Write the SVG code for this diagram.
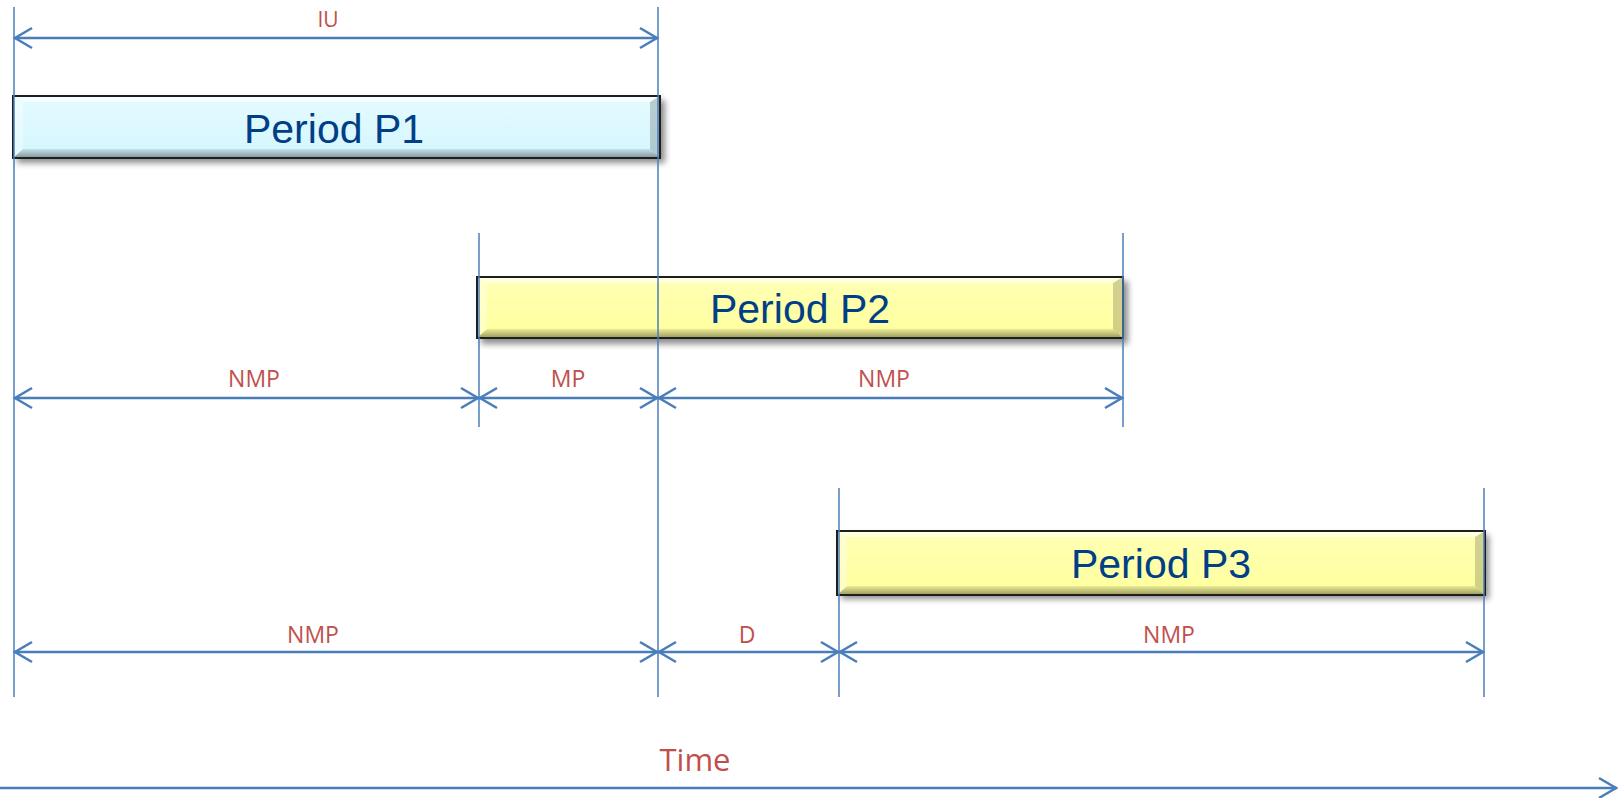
<svg xmlns="http://www.w3.org/2000/svg" width="1620" height="798" viewBox="0 0 1620 798">
<style>
.lbl{font-family:"Open Sans","Liberation Sans",sans-serif;font-size:23px;fill:#C0504D;text-anchor:middle}
.ptxt{font-family:"Liberation Sans",Arial,sans-serif;font-size:41px;fill:#003F87;text-anchor:middle}
.vl{stroke:#4A7EBB;stroke-width:1.5;fill:none}
.ar{stroke:#4A7EBB;stroke-width:2.5;fill:none;marker-start:url(#arr);marker-end:url(#arr)}
.edge{fill:none;stroke:#1e1e1e;stroke-width:2}
.hi{fill:#ffffff;opacity:0.6}
.hl{fill:#ffffff;opacity:0.35}
.sh{fill:url(#gb)}
.sr{fill:#000000;opacity:0.18}
</style>
<defs>
<marker id="arr" viewBox="-21 -12 24 24" refX="0" refY="0" markerWidth="24" markerHeight="24" markerUnits="userSpaceOnUse" orient="auto-start-reverse">
<path d="M-18,-10 L-1,0 L-18,10" fill="none" stroke="#4A7EBB" stroke-width="2.5"/>
</marker>
<filter id="blur" x="-5%" y="-30%" width="110%" height="160%"><feGaussianBlur stdDeviation="3"/></filter>
<linearGradient id="gc" x1="0" y1="0" x2="0" y2="1">
<stop offset="0" stop-color="#E4FBFF"/><stop offset="1" stop-color="#D4F6FE"/>
</linearGradient>
<linearGradient id="gy" x1="0" y1="0" x2="0" y2="1">
<stop offset="0" stop-color="#FFFFB4"/><stop offset="1" stop-color="#FFFF9E"/>
</linearGradient>
<linearGradient id="gb" x1="0" y1="0" x2="0" y2="1">
<stop offset="0" stop-color="#000" stop-opacity="0.08"/><stop offset="1" stop-color="#000" stop-opacity="0.4"/>
</linearGradient>
</defs>

<g id="p1">
<rect x="17" y="100" width="648" height="63" fill="#000" opacity="0.45" filter="url(#blur)"/>
<rect x="13" y="96" width="647" height="62" fill="url(#gc)"/>
<polygon class="hi" points="13,96 660,96 650,102 23,102"/>
<polygon class="sh" points="23,149 650,149 660,158 13,158"/>
<polygon class="hl" points="13,96 23,102 23,149 13,158"/>
<polygon class="sr" points="660,96 650,102 650,149 660,158"/>
<rect class="edge" x="13" y="96" width="647" height="62"/>
<text class="ptxt" x="334" y="143">Period P1</text>
</g>

<g id="p2">
<rect x="481" y="281" width="647" height="63" fill="#000" opacity="0.45" filter="url(#blur)"/>
<rect x="477" y="277" width="646" height="61" fill="url(#gy)"/>
<polygon class="hi" points="477,277 1123,277 1113,283 487,283"/>
<polygon class="sh" points="487,329 1113,329 1123,338 477,338"/>
<polygon class="hl" points="477,277 487,283 487,329 477,338"/>
<polygon class="sr" points="1123,277 1113,283 1113,329 1123,338"/>
<rect class="edge" x="477" y="277" width="646" height="61"/>
<text class="ptxt" x="800" y="323">Period P2</text>
</g>

<g id="p3">
<rect x="841" y="535" width="648" height="64" fill="#000" opacity="0.45" filter="url(#blur)"/>
<rect x="837" y="531" width="648" height="64" fill="url(#gy)"/>
<polygon class="hi" points="837,531 1485,531 1475,537 847,537"/>
<polygon class="sh" points="847,586 1475,586 1485,595 837,595"/>
<polygon class="hl" points="837,531 847,537 847,586 837,595"/>
<polygon class="sr" points="1485,531 1475,537 1475,586 1485,595"/>
<rect class="edge" x="837" y="531" width="648" height="64"/>
<text class="ptxt" x="1161" y="578">Period P3</text>
</g>

<g id="connectors">
<line class="vl" x1="14" y1="7" x2="14" y2="697"/>
<line class="vl" x1="658" y1="7" x2="658" y2="697"/>
<line class="vl" x1="479" y1="233" x2="479" y2="427"/>
<line class="vl" x1="1123" y1="233" x2="1123" y2="427"/>
<line class="vl" x1="839" y1="488" x2="839" y2="697"/>
<line class="vl" x1="1484" y1="488" x2="1484" y2="697"/>

<line class="ar" x1="14" y1="38" x2="658" y2="38"/>
<line class="ar" x1="14" y1="398" x2="479" y2="398"/>
<line class="ar" x1="479" y1="398" x2="658" y2="398"/>
<line class="ar" x1="658" y1="398" x2="1123" y2="398"/>
<line class="ar" x1="14" y1="652" x2="658" y2="652"/>
<line class="ar" x1="658" y1="652" x2="839" y2="652"/>
<line class="ar" x1="839" y1="652" x2="1484" y2="652"/>
<line x1="0" y1="788" x2="1617" y2="788" stroke="#4A7EBB" stroke-width="2.5" marker-end="url(#arr)"/>
</g>

<g id="labels">
<text class="lbl" x="328" y="27" style="font-size:21px">IU</text>
<text class="lbl" x="254" y="387">NMP</text>
<text class="lbl" x="568" y="387">MP</text>
<text class="lbl" x="884" y="387">NMP</text>
<text class="lbl" x="313" y="643">NMP</text>
<text class="lbl" x="747" y="643">D</text>
<text class="lbl" x="1169" y="643">NMP</text>
<text class="lbl" x="695" y="771" style="font-size:31px">Time</text>
</g>
</svg>
